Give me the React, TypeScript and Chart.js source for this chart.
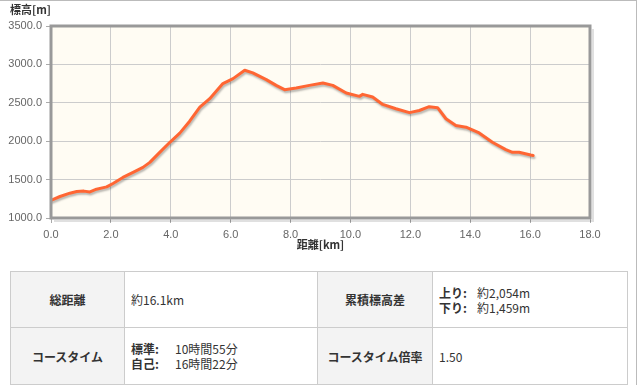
import React, { useEffect, useRef } from "react";
import { Chart, registerables } from "chart.js";

Chart.register(...registerables);

const distancesKm = [
  0.0, 0.3, 0.63, 0.86, 1.1, 1.3, 1.52, 1.86, 2.07, 2.4, 2.74, 3.07, 3.3, 3.63, 3.97, 4.3, 4.63, 4.97, 5.3, 5.74,
  6.08, 6.47, 6.74, 7.19, 7.52, 7.8, 8.19, 8.63, 9.08, 9.41, 9.86, 10.3, 10.41, 10.74, 11.08, 11.52, 11.97, 12.3,
  12.63, 12.91, 13.19, 13.52, 13.86, 14.3, 14.74, 15.19, 15.41, 15.63, 16.02, 16.1,
];
const elevationsM = [
  1230, 1280, 1323, 1345, 1350, 1340, 1375, 1405, 1450, 1528, 1593, 1659, 1724, 1855, 1986, 2105, 2260, 2444, 2553,
  2750, 2815, 2924, 2889, 2802, 2727, 2671, 2692, 2727, 2758, 2727, 2627, 2584, 2610, 2575, 2479, 2423, 2372, 2400,
  2450, 2436, 2292, 2204, 2182, 2108, 1986, 1890, 1855, 1855, 1820, 1815,
];

const yAxisTitle = "標高[m]";
const xAxisTitle = "距離[km]";
const xRange = [0, 18, 2];
const yRange = [1000, 3500, 500];

const CANVAS_W = 640;
const CANVAS_H = 258;

const decorPlugin = {
  id: "decor",
  beforeDraw(chart: any) {
    const { ctx, chartArea: a } = chart;
    ctx.save();
    ctx.fillStyle = "#fffcf3";
    ctx.fillRect(a.left, a.top, a.right - a.left, a.bottom - a.top);
    ctx.restore();
  },
  beforeDatasetsDraw(chart: any) {
    const ctx = chart.ctx;
    ctx.save();
    ctx.shadowColor = "rgba(0,0,0,0.28)";
    ctx.shadowOffsetX = 1;
    ctx.shadowOffsetY = 2;
    ctx.shadowBlur = 2;
  },
  afterDatasetsDraw(chart: any) {
    chart.ctx.restore();
  },
  afterDraw(chart: any) {
    const { ctx, chartArea: a } = chart;
    ctx.save();
    // shadow of frame
    ctx.strokeStyle = "rgba(0,0,0,0.12)";
    ctx.lineWidth = 2;
    ctx.beginPath();
    ctx.moveTo(a.right + 3, a.top + 3);
    ctx.lineTo(a.right + 3, a.bottom + 3);
    ctx.lineTo(a.left + 3, a.bottom + 3);
    ctx.stroke();
    ctx.strokeStyle = "#999999";
    ctx.lineWidth = 3;
    ctx.strokeRect(a.left, a.top, a.right - a.left, a.bottom - a.top);
    ctx.fillStyle = "#333333";
    ctx.font = "bold 11px 'Noto Sans CJK JP'";
    ctx.textBaseline = "middle";
    ctx.textAlign = "left";
    ctx.fillText(yAxisTitle, 10, 10);
    ctx.textAlign = "center";
    ctx.fillText(xAxisTitle, (a.left + a.right) / 2, 245);
    ctx.restore();
  },
};

function ElevationChart() {
  const ref = useRef<HTMLCanvasElement | null>(null);
  useEffect(() => {
    if (!ref.current) return;
    const points = distancesKm.map((d, i) => ({ x: d, y: elevationsM[i] }));
    const tickFont = { family: "'Liberation Sans', Arial, sans-serif", size: 11 };
    const chart = new Chart(ref.current, {
      type: "scatter",
      data: {
        datasets: [
          {
            data: points,
            showLine: true,
            borderColor: "#ff6633",
            backgroundColor: "#ff6633",
            borderWidth: 3,
            pointRadius: 0,
            tension: 0,
            borderJoinStyle: "round",
            borderCapStyle: "round",
          } as any,
        ],
      },
      options: {
        responsive: false,
        animation: false,
        layout: { padding: { left: 0, top: 26, right: 50, bottom: 0 } },
        plugins: { legend: { display: false }, tooltip: { enabled: false } },
        scales: {
          x: {
            type: "linear",
            min: xRange[0],
            max: xRange[1],
            afterFit(scale: any) {
              scale.height = 40;
            },
            border: { display: false },
            grid: { color: "#cccccc", lineWidth: 1, tickLength: 5, tickColor: "#aaaaaa" },
            ticks: {
              stepSize: xRange[2],
              color: "#666666",
              font: tickFont,
              padding: 5,
              maxRotation: 0,
              callback: (v: any) => Number(v).toFixed(1),
            },
          },
          y: {
            type: "linear",
            min: yRange[0],
            max: yRange[1],
            afterFit(scale: any) {
              scale.width = 51;
            },
            border: { display: false },
            grid: { color: "#cccccc", lineWidth: 1, tickLength: 5, tickColor: "#aaaaaa" },
            ticks: {
              stepSize: yRange[2],
              color: "#666666",
              font: tickFont,
              padding: 4,
              callback: (v: any) => Number(v).toFixed(1),
            },
          },
        },
      },
      plugins: [decorPlugin],
    });
    return () => chart.destroy();
  }, []);
  return <canvas ref={ref} width={CANVAS_W} height={CANVAS_H} style={{ display: "block" }} />;
}

const th: React.CSSProperties = {
  background: "#f3f3f3",
  border: "1px solid #cccccc",
  fontWeight: "bold",
  textAlign: "center",
  color: "#333",
  padding: 0,
};
const td: React.CSSProperties = {
  background: "#ffffff",
  border: "1px solid #cccccc",
  textAlign: "left",
  color: "#333",
  padding: "0 0 0 6px",
};

export default function App() {
  useEffect(() => {
    document.body.style.margin = "0";
  }, []);
  return (
    <div
      style={{
        position: "relative",
        width: 637,
        height: 385,
        borderTop: "1px solid #bbbbbb",
        borderRight: "1px solid #bbbbbb",
        boxSizing: "border-box",
        fontFamily: "'Noto Sans CJK JP', sans-serif",
        fontSize: 12,
        overflow: "hidden",
      }}
    >
      <div style={{ position: "absolute", left: 0, top: -1 }}>
        <ElevationChart />
      </div>
      <table
        style={{
          position: "absolute",
          left: 10,
          top: 270,
          borderCollapse: "collapse",
          width: 617,
          tableLayout: "fixed",
          fontSize: 12,
          lineHeight: "15px",
        }}
      >
        <colgroup>
          <col style={{ width: 114 }} />
          <col style={{ width: 193 }} />
          <col style={{ width: 115 }} />
          <col style={{ width: 195 }} />
        </colgroup>
        <tbody>
          <tr style={{ height: 56 }}>
            <td style={th}>総距離</td>
            <td style={td}>約16.1km</td>
            <td style={th}>累積標高差</td>
            <td style={td}>
              <div>
                <b style={{ display: "inline-block", width: 38 }}>上り:</b>約2,054m
              </div>
              <div>
                <b style={{ display: "inline-block", width: 38 }}>下り:</b>約1,459m
              </div>
            </td>
          </tr>
          <tr style={{ height: 57 }}>
            <td style={th}>コースタイム</td>
            <td style={td}>
              <div>
                <b style={{ display: "inline-block", width: 44 }}>標準:</b>10時間55分
              </div>
              <div>
                <b style={{ display: "inline-block", width: 44 }}>自己:</b>16時間22分
              </div>
            </td>
            <td style={th}>コースタイム倍率</td>
            <td style={td}>1.50</td>
          </tr>
        </tbody>
      </table>
    </div>
  );
}
